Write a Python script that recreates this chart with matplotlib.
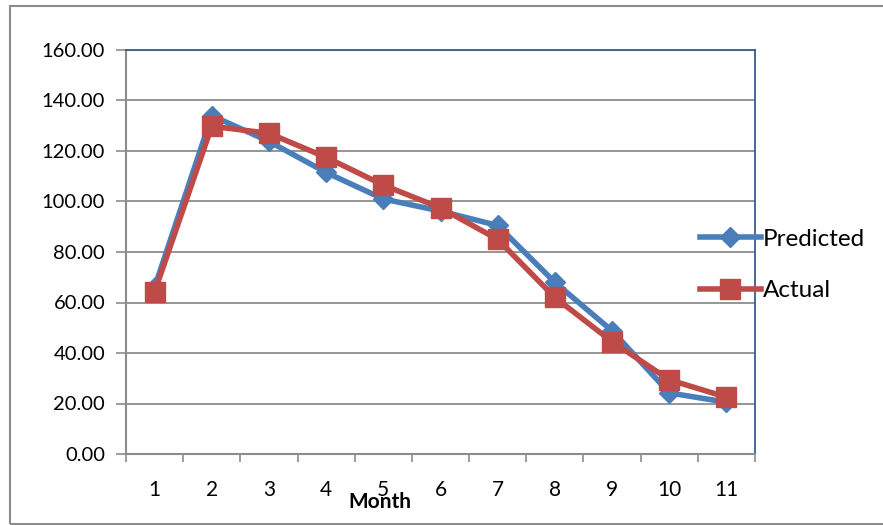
import matplotlib.pyplot as plt
from matplotlib.patches import Rectangle

# Dữ liệu
months = [1, 2, 3, 4, 5, 6, 7, 8, 9, 10, 11]
predicted = [66.0, 134.0, 123.8, 111.5, 101.0, 96.2, 90.5, 68.0, 48.8, 24.2, 20.5]
actual = [64.2, 129.8, 127.0, 117.5, 106.5, 97.5, 85.0, 62.0, 44.5, 29.4, 22.5]
yticks = [0, 20, 40, 60, 80, 100, 120, 140, 160]

plt.rcParams['font.family'] = ['Lato', 'DejaVu Sans']

fig = plt.figure(figsize=(8.83, 5.25), dpi=100)
W, H = 883, 525
ax = fig.add_axes([126 / W, 1 - 454 / H, (755 - 126) / W, (454 - 50) / H])

# khung ngoài của biểu đồ
fig.patches.append(Rectangle((10 / W, 1 / H), 1.0, 1 - 7 / H, transform=fig.transFigure,
                             fill=False, edgecolor='#8c8c8c', linewidth=1.5))

blue = '#4a7ebb'
red = '#be4b48'
x = list(range(len(months)))
ax.plot(x, predicted, color=blue, linewidth=4, marker='D', markersize=10.5,
        label='Predicted', zorder=3)
ax.plot(x, actual, color=red, linewidth=4, marker='s', markersize=14,
        label='Actual', zorder=4)

ax.set_xlim(-0.5, len(months) - 0.5)
ax.set_ylim(0, 160)
ax.set_yticks(yticks)
ax.set_yticklabels([f'{v:.2f}' for v in yticks], fontsize=14.5)
ax.set_xticks(x)
ax.set_xticklabels([str(m) for m in months], fontsize=15)
ax.set_xticks([i - 0.5 for i in range(len(months) + 1)], minor=True)
ax.tick_params(axis='x', which='major', length=0, pad=19)
ax.tick_params(axis='x', which='minor', length=6, color='#8c8c8c', width=1.2, direction='out')
ax.tick_params(axis='y', length=7, color='#8c8c8c', width=1.2, pad=8)

ax.grid(axis='y', color='#8c8c8c', linewidth=1.3)
ax.set_axisbelow(True)
for side in ['left', 'bottom']:
    ax.spines[side].set_color('#8c8c8c')
    ax.spines[side].set_linewidth(1.5)
for side in ['top', 'right']:
    ax.spines[side].set_color('#385d8a')
    ax.spines[side].set_linewidth(1.3)

ax.set_xlabel('Month', fontsize=15, fontweight='bold')
ax.xaxis.set_label_coords((380 - 126) / (755 - 126), -(492 - 454) / (454 - 50))

leg = ax.legend(loc='center left', bbox_to_anchor=((700 - 126) / 629, (454 - 265) / 404),
                frameon=False, fontsize=17.5, handlelength=2.5, handletextpad=0.1,
                labelspacing=1.25, borderaxespad=0, borderpad=0)
leg.set_zorder(5)
for line in leg.get_lines():
    line.set_linewidth(4)

fig.savefig('out.png', dpi=100)
